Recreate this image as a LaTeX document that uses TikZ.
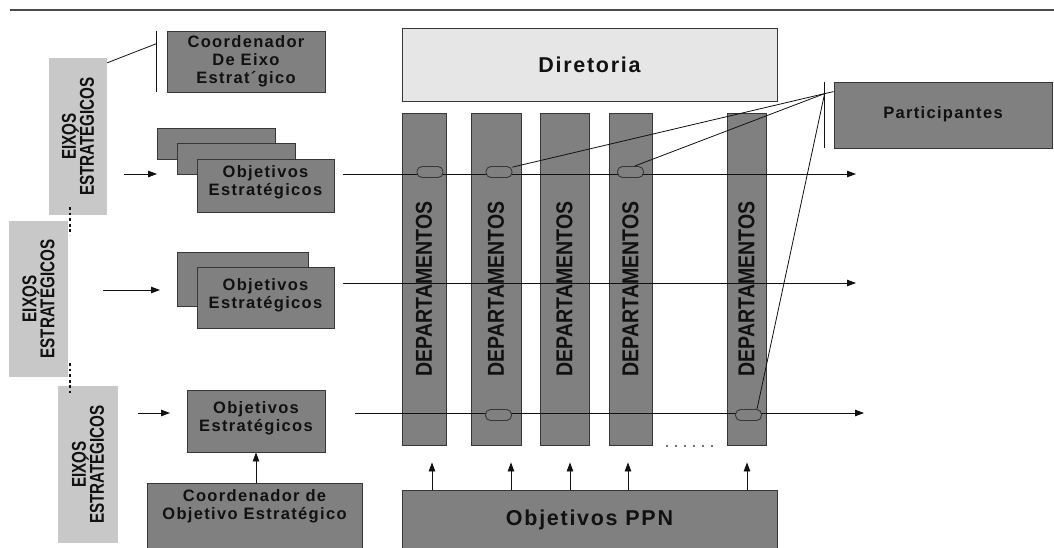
\documentclass[tikz,border=0pt]{standalone}
\usepackage{fontspec}
\setmainfont{Liberation Sans}
\newfontfamily\spacedfont{Liberation Sans}[LetterSpace=8]
\newfontfamily\deptfont{Liberation Sans}[FakeStretch=0.85]
\newfontfamily\eixofont{Liberation Sans}[FakeStretch=0.76]
\usetikzlibrary{arrows.meta,calc}
\definecolor{boxgray}{RGB}{128,128,128}
\definecolor{eixogray}{RGB}{200,200,200}
\definecolor{dirgray}{RGB}{230,230,230}
\definecolor{edgegray}{RGB}{55,55,55}
\definecolor{inkgray}{RGB}{17,17,17}
\begin{document}
\begin{tikzpicture}[x=1pt,y=-1pt,
  darkbox/.style={draw=edgegray, fill=boxgray, line width=0.8pt, inner sep=0pt},
  lightbox/.style={fill=eixogray, inner sep=0pt},
  dirbox/.style={draw=edgegray, fill=dirgray, line width=0.8pt, inner sep=0pt},
  colbox/.style={darkbox, minimum height=332pt},
  oval/.style={draw=edgegray, fill=boxgray, line width=0.9pt, rounded corners=5pt,
    minimum width=26pt, minimum height=11pt, inner sep=0pt},
  boxtext/.style={font=\spacedfont\bfseries\fontsize{16.5pt}{18pt}\selectfont,
    text=inkgray, align=center, inner sep=0pt},
  bigtext/.style={font=\spacedfont\bfseries\fontsize{21.5pt}{24pt}\selectfont,
    text=inkgray, inner sep=0pt},
  depttext/.style={rotate=90, font=\deptfont\bfseries\fontsize{23pt}{23pt}\selectfont,
    text=inkgray, inner sep=0pt},
  eixotext/.style={rotate=90, font=\eixofont\bfseries\fontsize{20pt}{18pt}\selectfont,
    text=inkgray, align=center, inner sep=0pt},
  thinline/.style={draw=inkgray, line width=0.8pt},
  flow/.style={thinline, -{Triangle[length=9pt,width=6.5pt]}},
  dotline/.style={draw=inkgray, line width=2.8pt, dash pattern=on 2.8pt off 2.8pt}]

\useasboundingbox (0,0) rectangle (1054,547);

% header rule
\coordinate (ruleL) at (10,10);
\coordinate (ruleR) at (1054,10);
\draw[draw=black!70, line width=1.3pt] (ruleL) -- (ruleR);

% strategic axes (left column)
\node[lightbox, minimum width=58pt, minimum height=157pt] (e1) at (78,136.5) {};
\node[eixotext] at (e1) {EIXOS\\ESTRATÉGICOS};
\node[lightbox, minimum width=59pt, minimum height=156pt] (e2) at (38.5,299) {};
\node[eixotext] at (e2) {EIXOS\\ESTRATÉGICOS};
\node[lightbox, minimum width=60pt, minimum height=157pt] (e3) at (88,464.5) {};
\node[eixotext] at (e3) {EIXOS\\ESTRATÉGICOS};

\coordinate (dotA1) at (70,207);
\coordinate (dotA2) at (70,235);
\coordinate (dotB1) at (70,363);
\coordinate (dotB2) at (70,393);
\draw[dotline] (dotA1) -- (dotA2);
\draw[dotline] (dotB1) -- (dotB2);

% axis coordinator
\node[darkbox, minimum width=158pt, minimum height=61pt] (ce) at (246,61.5) {};
\node[boxtext] at (ce) {Coordenador\\De Eixo\\Estrat´gico};
\draw[thinline] ([xshift=-10pt]ce.north west) -- ([xshift=-10pt]ce.south west);
\coordinate (ceb) at ($(ce.north west)+(-10,13)$);
\draw[thinline] ($(e1.north east)+(0,5)$) -- (ceb);

% strategic objectives, row 1 (stacked)
\node[darkbox, minimum width=118pt, minimum height=31pt] (o1a) at (216,143.5) {};
\node[darkbox, minimum width=118pt, minimum height=31pt] (o1b) at (236,158.5) {};
\node[darkbox, minimum width=137pt, minimum height=53pt] (o1) at (265.5,185.5) {};
\node[boxtext] at (265.5,182) {Objetivos\\Estratégicos};

% row 2
\node[darkbox, minimum width=131pt, minimum height=54pt] (o2a) at (242.5,279) {};
\node[darkbox, minimum width=137pt, minimum height=61pt] (o2) at (265.5,297.5) {};
\node[boxtext] at (265.5,295) {Objetivos\\Estratégicos};

% row 3
\node[darkbox, minimum width=138pt, minimum height=62pt] (o3) at (256,421) {};
\node[boxtext] at (256,418) {Objetivos\\Estratégicos};
\node[darkbox, minimum width=215pt, minimum height=75pt, anchor=north] (co) at (254.5,483) {};
\node[boxtext, anchor=north] at ([yshift=-6pt]co.north) {Coordenador de\\Objetivo Estratégico};
\draw[flow] (co.north -| 256,0) -- (o3.south -| 256,0);

% arrows into the objectives
\coordinate (a1s) at (124,174); \coordinate (a1e) at (157,174);
\coordinate (a2s) at (103,290); \coordinate (a2e) at (160,290);
\coordinate (a3s) at (138,413); \coordinate (a3e) at (170,413);
\draw[flow] (a1s) -- (a1e);
\draw[flow] (a2s) -- (a2e);
\draw[flow] (a3s) -- (a3e);

% board
\node[dirbox, minimum width=375pt, minimum height=73pt] (dir) at (589.5,64.5) {};
\node[bigtext, anchor=base] at (589.5,72) {Diretoria};

% departments
\node[colbox, minimum width=44pt] (d1) at (424,279) {};
\node[colbox, minimum width=50pt] (d2) at (496,279) {};
\node[colbox, minimum width=49pt] (d3) at (564.5,279) {};
\node[colbox, minimum width=43pt] (d4) at (630.5,279) {};
\node[colbox, minimum width=39pt] (d5) at (746.5,279) {};
\foreach \d in {d1,d2,d3,d4,d5}
  \node[depttext] at ($(\d)+(0,10)$) {DEPARTAMENTOS};

% horizontal flows through the departments
\coordinate (r1s) at (343,174); \coordinate (r1e) at (856,174);
\coordinate (r2s) at (343,283); \coordinate (r2e) at (856,283);
\coordinate (r3s) at (355,413); \coordinate (r3e) at (864,413);
\draw[flow] (r1s) -- (r1e);
\draw[flow] (r2s) -- (r2e);
\draw[flow] (r3s) -- (r3e);

% participants
\node[darkbox, minimum width=218pt, minimum height=66pt] (part) at (943,115) {};
\node[boxtext] at (943,114) {Participantes};
\draw[thinline] ([xshift=-9pt]part.north west) -- ([xshift=-9pt]part.south west);
\coordinate (hub) at ($(part.north west)+(-9,12)$);

\node[oval] (v11) at (430,172) {};
\node[oval] (v12) at (499,172) {};
\node[oval] (v14) at (630.5,172) {};
\node[oval] (v32) at (498.5,415) {};
\node[oval] (v35) at (748.5,415) {};

\draw[thinline] (hub) -- ($(part.north west)+(0,10)$);
\draw[thinline] (hub) -- (v12.20);
\draw[thinline] (hub) -- (v14.55);
\draw[thinline] (hub) -- (v35.35);

% gap in the department row
\foreach \i in {0,...,5}
  \fill[inkgray!80] (667+\i*9,446) circle (1.1pt);

% national objectives
\node[darkbox, minimum width=375pt, minimum height=70pt, anchor=north] (ppn) at (589.5,490) {};
\node[bigtext, anchor=base] at (589.5,525.5) {Objetivos PPN};
\foreach \d/\x in {d1/432,d2/511,d3/570,d4/628,d5/747}
  \draw[flow] (ppn.north -| \x,0) -- ($(\d.south -| \x,0)+(0,17)$);
\end{tikzpicture}
\end{document}
